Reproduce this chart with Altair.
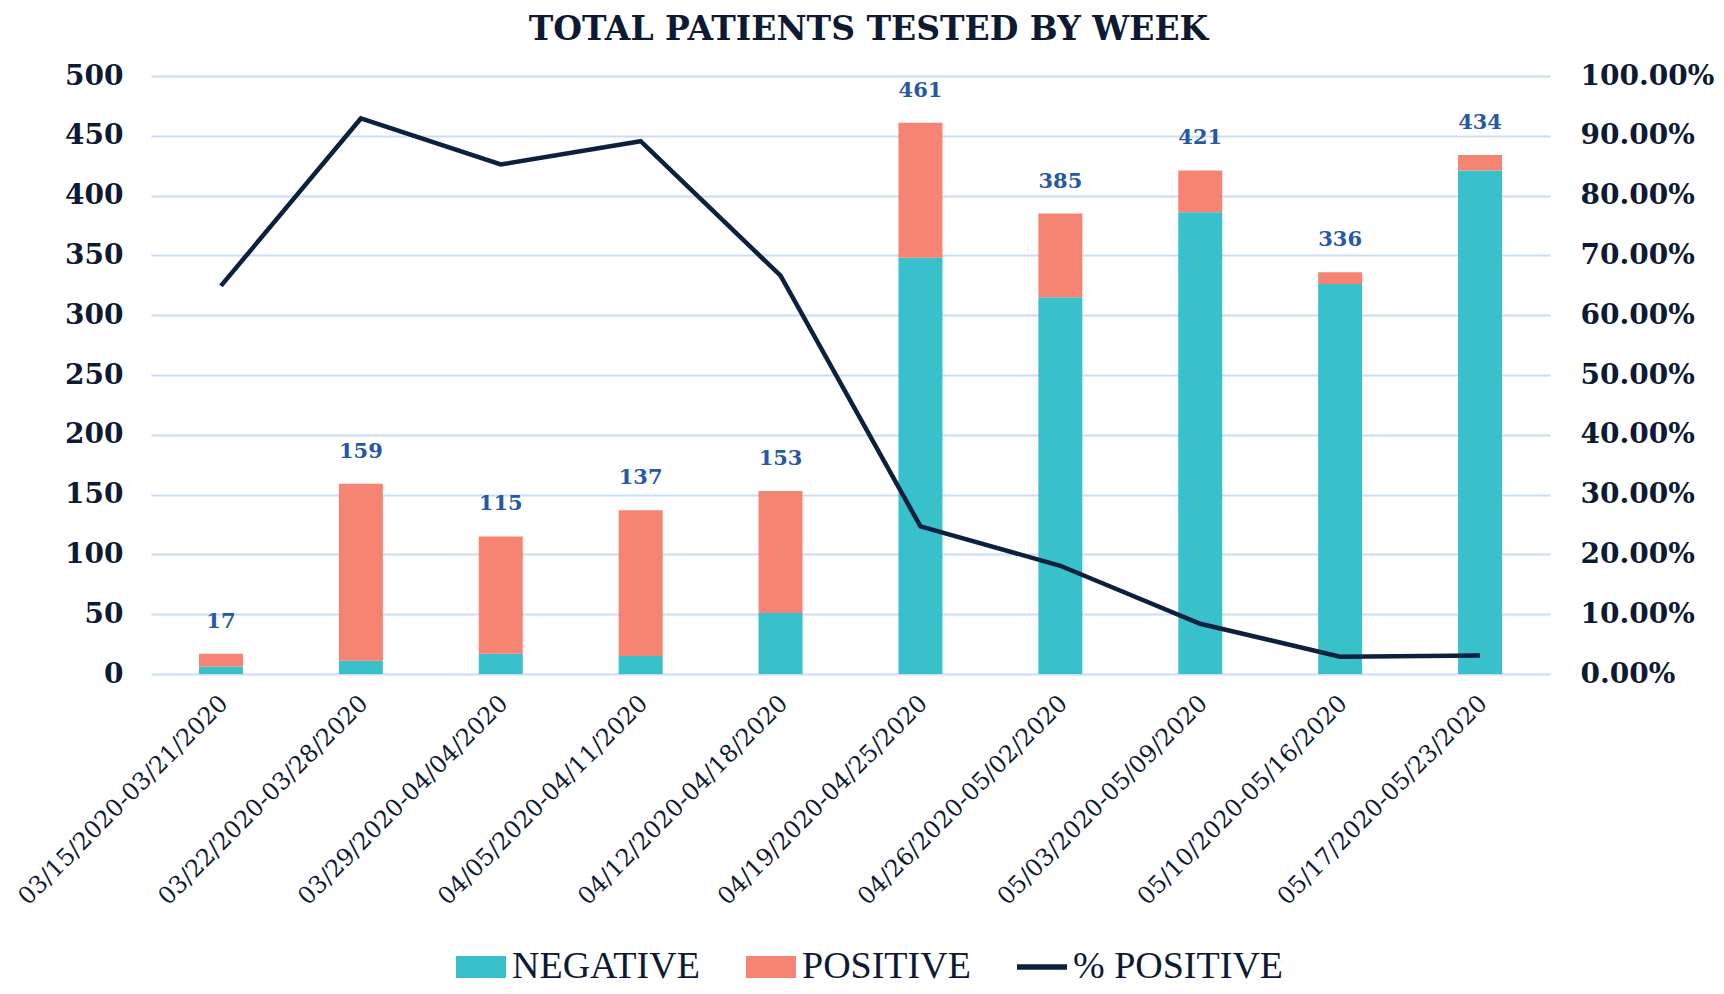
import altair as alt
import pandas as pd

weeks = [
    "03/15/2020-03/21/2020", "03/22/2020-03/28/2020", "03/29/2020-04/04/2020",
    "04/05/2020-04/11/2020", "04/12/2020-04/18/2020", "04/19/2020-04/25/2020",
    "04/26/2020-05/02/2020", "05/03/2020-05/09/2020", "05/10/2020-05/16/2020",
    "05/17/2020-05/23/2020",
]
negative = [6, 11, 17, 15, 51, 348, 315, 386, 326, 421]
positive = [11, 148, 98, 122, 102, 113, 70, 35, 10, 13]
totals = [17, 159, 115, 137, 153, 461, 385, 421, 336, 434]
pct_positive = [0.649, 0.929, 0.852, 0.891, 0.666, 0.247, 0.181, 0.084, 0.029, 0.031]

series_names = ["NEGATIVE", "POSITIVE", "% POSITIVE"]
TEAL = "#38C0CB"
SALMON = "#F58473"
NAVY = "#0D213F"
GRID = "#CADDF5"
LABEL_BLUE = "#2658A6"
TEXT = "#0E1A33"

rows = []
for w, n, p in zip(weeks, negative, positive):
    rows.append({"week": w, "series": "NEGATIVE", "count": n, "ord": 0})
    rows.append({"week": w, "series": "POSITIVE", "count": p, "ord": 1})
bars_df = pd.DataFrame(rows)
wide_df = pd.DataFrame({"week": weeks, "total": totals, "pct": pct_positive})
legend_df = pd.DataFrame({"series": series_names})

x_enc = alt.X(
    "week:N", sort=weeks,
    scale=alt.Scale(paddingInner=0, paddingOuter=0),
    axis=alt.Axis(title=None, labelAngle=-45, labelFont="DejaVu Serif",
                  labelFontSize=24, labelColor=TEXT, labelPadding=17, labelOffset=-5,
                  domain=False, ticks=False, grid=False, labelLimit=0),
)
left_axis = alt.Axis(title=None, values=list(range(0, 501, 50)), orient="left",
                     grid=True, gridColor=GRID, gridWidth=2, domain=False, ticks=False,
                     labelFont="DejaVu Serif", labelFontWeight="bold", labelFontSize=28,
                     labelColor=TEXT, labelPadding=28)
left_scale = alt.Scale(domain=[0, 500], nice=False)

bars = alt.Chart(bars_df).mark_bar(size=44).encode(
    x=x_enc,
    y=alt.Y("count:Q", stack="zero", scale=left_scale, axis=left_axis),
    fill=alt.Fill("series:N", scale=alt.Scale(domain=["NEGATIVE", "POSITIVE"], range=[TEAL, SALMON]), legend=None),
    order=alt.Order("ord:Q"),
)

labels = alt.Chart(wide_df).mark_text(
    baseline="bottom", dy=-22, font="DejaVu Serif", fontWeight="bold", fontSize=21, color=LABEL_BLUE
).encode(
    x=x_enc,
    y=alt.Y("total:Q", scale=left_scale, axis=left_axis),
    text=alt.Text("total:Q"),
)

line = alt.Chart(wide_df).mark_line(color=NAVY, strokeWidth=4.5).encode(
    x=x_enc,
    y=alt.Y("pct:Q", scale=alt.Scale(domain=[0, 1], nice=False),
            axis=alt.Axis(title=None, orient="right", format=".2%",
                          values=[i / 10 for i in range(11)], grid=False, domain=False, ticks=False,
                          labelFont="DejaVu Serif", labelFontWeight="bold", labelFontSize=28,
                          labelColor=TEXT, labelPadding=30)),
)

rect_path = "M-1,-0.44H1V0.44H-1Z"
line_path = "M-1,-0.11H1V0.11H-1Z"
legend_spec = dict(title=None, orient="none", legendX=305, legendY=866,
                   direction="horizontal", symbolSize=2500, symbolOpacity=1,
                   symbolStrokeWidth=0, labelFont="Liberation Serif",
                   labelFontSize=38, labelColor=TEXT, labelOffset=6,
                   columnPadding=46, labelLimit=0)
legend_layer = alt.Chart(legend_df).mark_point(filled=True, opacity=0).encode(
    color=alt.Color("series:N", sort=series_names,
                    scale=alt.Scale(domain=series_names, range=[TEAL, SALMON, NAVY]),
                    legend=alt.Legend(**legend_spec)),
    shape=alt.Shape("series:N", sort=series_names,
                    scale=alt.Scale(domain=series_names, range=[rect_path, rect_path, line_path]),
                    legend=alt.Legend(**legend_spec)),
)

chart = alt.layer(alt.layer(bars, labels), line, legend_layer).resolve_scale(
    y="independent"
).properties(
    width=1399, height=598,
    autosize=alt.AutoSizeParams(type="none"),
    padding={"left": 143, "top": 68, "right": 166, "bottom": 312},
    title=alt.Title("TOTAL PATIENTS TESTED BY WEEK", font="DejaVu Serif", fontSize=33,
                    fontWeight="bold", color=TEXT, anchor="middle", dx=18, dy=21, offset=10,
                    frame="group", baseline="alphabetic"),
).configure_view(stroke=None)

chart.save("out.html", embed_options={"renderer": "svg", "actions": False})
